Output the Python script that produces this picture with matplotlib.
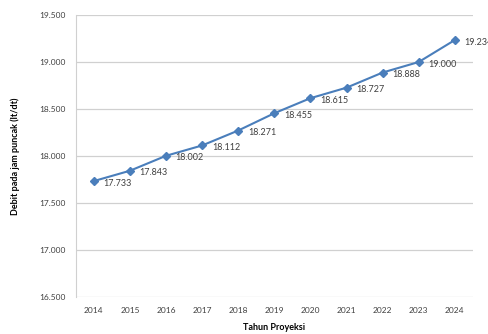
import matplotlib
matplotlib.use('Agg')
import matplotlib.pyplot as plt
from matplotlib.ticker import FuncFormatter

# Data
years = ['2014', '2015', '2016', '2017', '2018', '2019', '2020', '2021', '2022', '2023', '2024']
debit = [17733, 17843, 18002, 18112, 18271, 18455, 18615, 18727, 18888, 19000, 19234]
value_labels = ['17.733', '17.843', '18.002', '18.112', '18.271', '18.455',
                '18.615', '18.727', '18.888', '19.000', '19.234']

plt.rcParams['font.family'] = ['Lato', 'DejaVu Sans']

fig = plt.figure(figsize=(4.89, 3.34), dpi=100)
ax = fig.add_axes([0.155, 0.111, 0.812, 0.844])

x = list(range(len(years)))
ax.plot(x, debit, color='#4a7ebb', lw=1.5, marker='D', ms=4, zorder=3)

for xi, yi, lab in zip(x, debit, value_labels):
    ax.annotate(lab, (xi, yi), xytext=(7, -1.5), textcoords='offset points',
                fontsize=6.5, color='#404040', va='center', ha='left',
                annotation_clip=False)

ax.set_xlim(-0.5, len(years) - 0.5)
ax.set_ylim(16500, 19500)
ax.set_yticks(range(16500, 19501, 500))
ax.yaxis.set_major_formatter(FuncFormatter(lambda v, p: f'{v:,.0f}'.replace(',', '.')))
ax.set_xticks(x)
ax.set_xticklabels(years)

ax.grid(axis='y', color='#d0d0d0', lw=0.9)
ax.set_axisbelow(True)
for s in ['top', 'right', 'bottom']:
    ax.spines[s].set_visible(False)
ax.spines['left'].set_color('#d0d0d0')
ax.tick_params(axis='both', length=0, labelsize=6, colors='#404040', pad=7)

ax.set_xlabel('Tahun Proyeksi', fontsize=6.5, fontweight='bold', labelpad=7)
ax.set_ylabel('Debit pada jam puncak (lt/dt)', fontsize=6.5, fontweight='bold', labelpad=14)

fig.savefig('out.png', dpi=100)
